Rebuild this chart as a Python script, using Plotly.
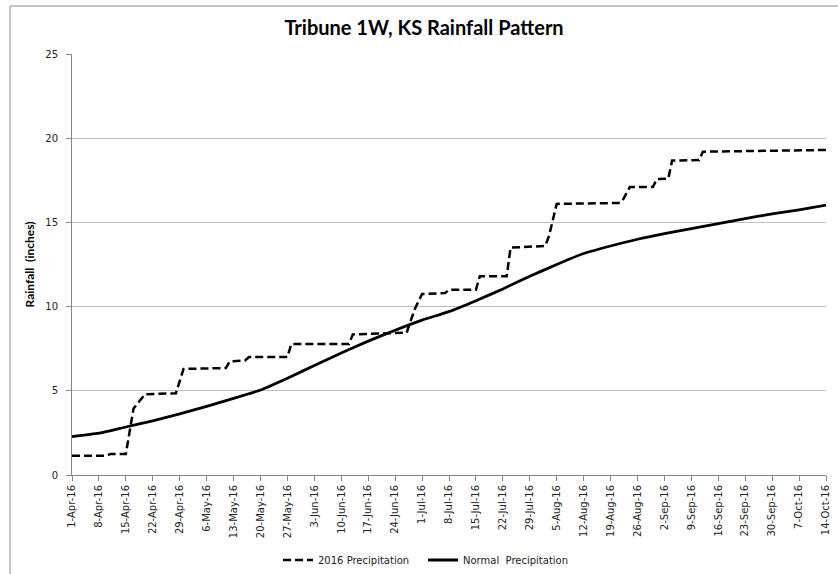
import plotly.graph_objects as go

# ---- data ----
precip_dates = ["2016-04-01", "2016-04-10", "2016-04-11", "2016-04-15", "2016-04-17", "2016-04-20",
                "2016-04-28", "2016-04-30", "2016-05-11", "2016-05-12", "2016-05-16", "2016-05-17",
                "2016-05-27", "2016-05-28", "2016-06-12", "2016-06-13", "2016-06-27", "2016-06-29",
                "2016-07-01", "2016-07-07", "2016-07-08", "2016-07-15", "2016-07-16", "2016-07-23",
                "2016-07-24", "2016-08-02", "2016-08-03", "2016-08-05", "2016-08-21", "2016-08-22",
                "2016-08-24", "2016-08-30", "2016-08-31", "2016-09-03", "2016-09-04", "2016-09-11",
                "2016-09-12", "2016-10-14"]
precip_2016 = [1.15, 1.15, 1.25, 1.25, 3.95, 4.8,
               4.85, 6.3, 6.35, 6.75, 6.8, 7.0,
               7.0, 7.78, 7.78, 8.35, 8.45, 9.8,
               10.75, 10.8, 11.0, 11.0, 11.8, 11.8,
               13.5, 13.6, 14.2, 16.1, 16.15, 16.25,
               17.1, 17.1, 17.57, 17.6, 18.67, 18.7,
               19.2, 19.3]

normal_dates = ["2016-04-01", "2016-04-08", "2016-04-15", "2016-04-22", "2016-04-29", "2016-05-06",
                "2016-05-13", "2016-05-20", "2016-05-27", "2016-06-03", "2016-06-10", "2016-06-17",
                "2016-06-24", "2016-07-01", "2016-07-08", "2016-07-15", "2016-07-22", "2016-07-29",
                "2016-08-05", "2016-08-12", "2016-08-19", "2016-08-26", "2016-09-02", "2016-09-09",
                "2016-09-16", "2016-09-23", "2016-09-30", "2016-10-07", "2016-10-14"]
normal_precip = [2.28, 2.48, 2.85, 3.22, 3.63, 4.08,
                 4.55, 5.05, 5.75, 6.5, 7.25, 7.95,
                 8.6, 9.2, 9.7, 10.35, 11.05, 11.8,
                 12.5, 13.15, 13.6, 14.0, 14.33, 14.63,
                 14.93, 15.23, 15.5, 15.75, 16.03]

tick_dates = normal_dates
tick_labels = ["1-Apr-16", "8-Apr-16", "15-Apr-16", "22-Apr-16", "29-Apr-16", "6-May-16",
               "13-May-16", "20-May-16", "27-May-16", "3-Jun-16", "10-Jun-16", "17-Jun-16",
               "24-Jun-16", "1-Jul-16", "8-Jul-16", "15-Jul-16", "22-Jul-16", "29-Jul-16",
               "5-Aug-16", "12-Aug-16", "19-Aug-16", "26-Aug-16", "2-Sep-16", "9-Sep-16",
               "16-Sep-16", "23-Sep-16", "30-Sep-16", "7-Oct-16", "14-Oct-16"]

fig = go.Figure()
fig.add_trace(go.Scatter(x=precip_dates, y=precip_2016, mode="lines", name="2016 Precipitation",
                         line=dict(color="black", width=2.5, dash="8px,4px")))
fig.add_trace(go.Scatter(x=normal_dates, y=normal_precip, mode="lines", name="Normal  Precipitation",
                         line=dict(color="black", width=2.8, shape="spline", smoothing=0.5)))

W, H = 838, 574
L, R, T, B = 72, 12, 54, 99
pw, ph = W - L - R, H - T - B

def px_x(p):
    return (p - L) / pw

def px_y(p):
    return (H - B - p) / ph

fig.update_layout(
    width=W, height=H,
    margin=dict(l=L, r=R, t=T, b=B, autoexpand=False),
    paper_bgcolor="white", plot_bgcolor="white",
    title=dict(text="<b>Tribune 1W, KS Rainfall Pattern</b>", x=424 / W, xanchor="center",
               y=1 - 28 / H, yanchor="middle",
               font=dict(family="Lato, Carlito, sans-serif", size=20, color="black")),
    showlegend=True,
    legend=dict(orientation="h", x=px_x(278), xanchor="left", y=px_y(560), yanchor="middle",
                font=dict(family="DejaVu Sans, Verdana, sans-serif", size=10, color="#222222"),
                entrywidth=100, entrywidthmode="pixels", bgcolor="rgba(0,0,0,0)"),
    xaxis=dict(type="date", range=["2016-04-01", "2016-10-14"], automargin=False,
               tickmode="array", tickvals=tick_dates, ticktext=tick_labels, tickangle=-90,
               tickfont=dict(family="DejaVu Sans, Verdana, sans-serif", size=10, color="#222222"),
               ticks="outside", ticklen=5, tickcolor="#868686",
               showline=True, linecolor="#868686", linewidth=1,
               showgrid=False, zeroline=False),
    yaxis=dict(range=[0, 25], tickvals=[0, 5, 10, 15, 20, 25], automargin=False,
               tickfont=dict(family="DejaVu Sans, Verdana, sans-serif", size=10, color="#222222"),
               ticks="outside", ticklen=5, tickcolor="#868686", ticklabelstandoff=6,
               showline=True, linecolor="#868686", linewidth=1,
               showgrid=True, gridcolor="#bfbfbf", gridwidth=1, zeroline=False,
               title=dict(text="<b>Rainfall  (inches)</b>", standoff=8,
                          font=dict(family="Lato, Carlito, sans-serif", size=12, color="black"))),
)

# chart-area border (top and left edges visible)
fig.add_shape(type="line", xref="paper", yref="paper",
              x0=px_x(10), x1=px_x(W + 5), y0=px_y(6), y1=px_y(6),
              line=dict(color="#b0b0b0", width=1.5))
fig.add_shape(type="line", xref="paper", yref="paper",
              x0=px_x(10), x1=px_x(10), y0=px_y(6), y1=px_y(H + 5),
              line=dict(color="#b0b0b0", width=1.5))

fig.write_html("out.html", config={"displayModeBar": False},
               post_script="document.body.style.margin='0';document.body.style.overflow='hidden';")
